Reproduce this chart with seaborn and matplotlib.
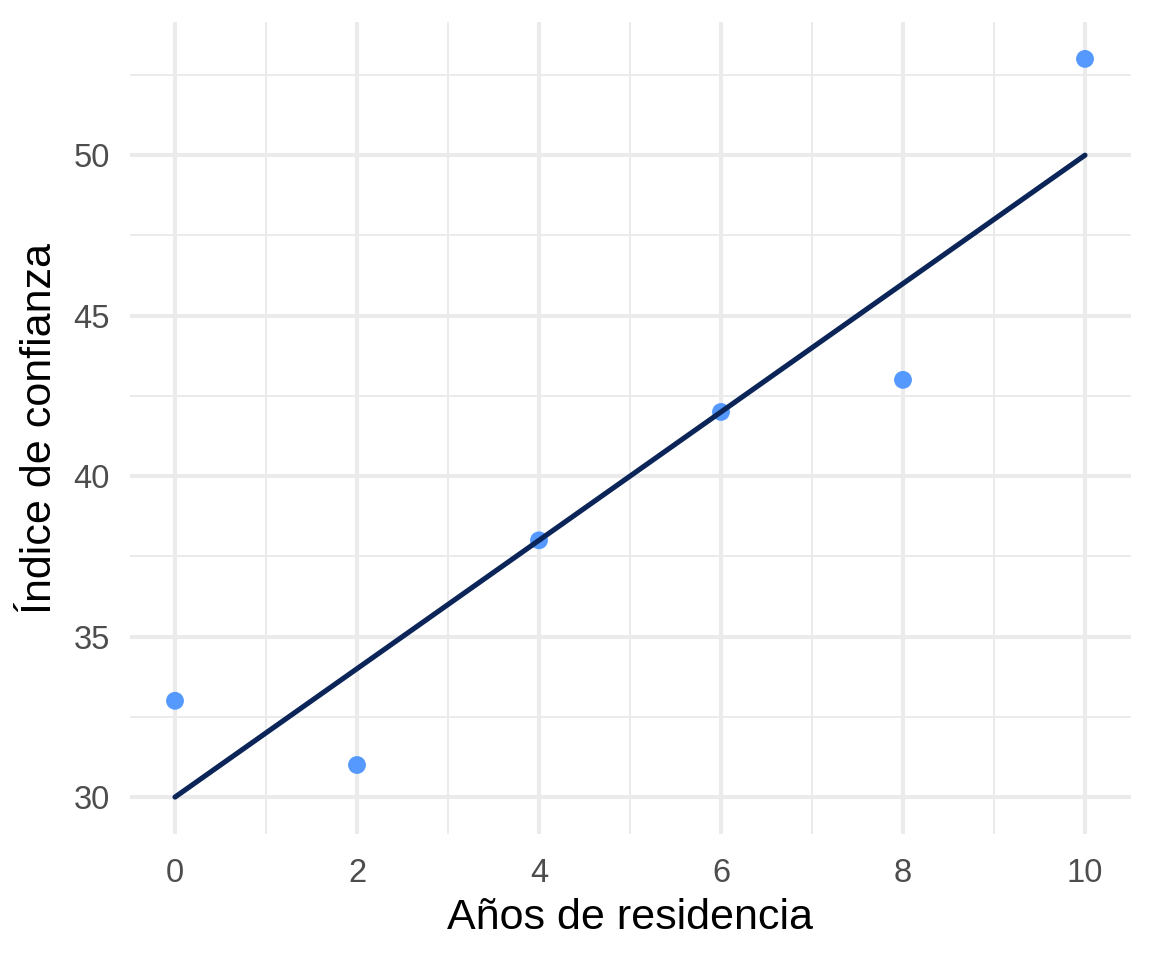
import numpy as np
import pandas as pd
import matplotlib
matplotlib.use("Agg")
import matplotlib.pyplot as plt
import seaborn as sns
from matplotlib.ticker import MultipleLocator

# data
anios = [0, 2, 4, 6, 8, 10]
confianza = [33, 31, 38, 42, 43, 53]

df = pd.DataFrame({"anios": anios, "confianza": confianza})

sns.set_theme(style="white")
plt.rcParams['font.family'] = ['Liberation Sans', 'DejaVu Sans']

fig = plt.figure(figsize=(11.52, 9.6), dpi=100)
ax = fig.add_axes([129.5 / 1152, 1 - 834 / 960, 1001 / 1152, 812 / 960])

sns.regplot(
    data=df, x="anios", y="confianza", ci=None, ax=ax,
    scatter_kws=dict(s=165, color="#5599FF", alpha=1, edgecolor="none", zorder=3),
    line_kws=dict(color="#0B2559", lw=3.7, zorder=4),
)

ax.set_xlim(-0.5, 10.5)
ax.set_ylim(28.85, 54.15)
ax.xaxis.set_major_locator(MultipleLocator(2))
ax.xaxis.set_minor_locator(MultipleLocator(1))
ax.yaxis.set_major_locator(MultipleLocator(5))
ax.yaxis.set_minor_locator(MultipleLocator(2.5))

ax.grid(which="major", color="#EBEBEB", lw=2.9)
ax.grid(which="minor", color="#EBEBEB", lw=1.4)
ax.set_axisbelow(True)
for sp in ax.spines.values():
    sp.set_visible(False)

ax.tick_params(which="both", length=0, labelsize=23.5, colors="#4D4D4D")
ax.tick_params(axis="x", pad=17)
ax.tick_params(axis="y", pad=14)

ax.set_xlabel("Años de residencia", fontsize=31, color="black", labelpad=7)
ax.set_ylabel("Índice de confianza", fontsize=31, color="black", labelpad=10)

fig.savefig("out.png", dpi=100, facecolor="white")
